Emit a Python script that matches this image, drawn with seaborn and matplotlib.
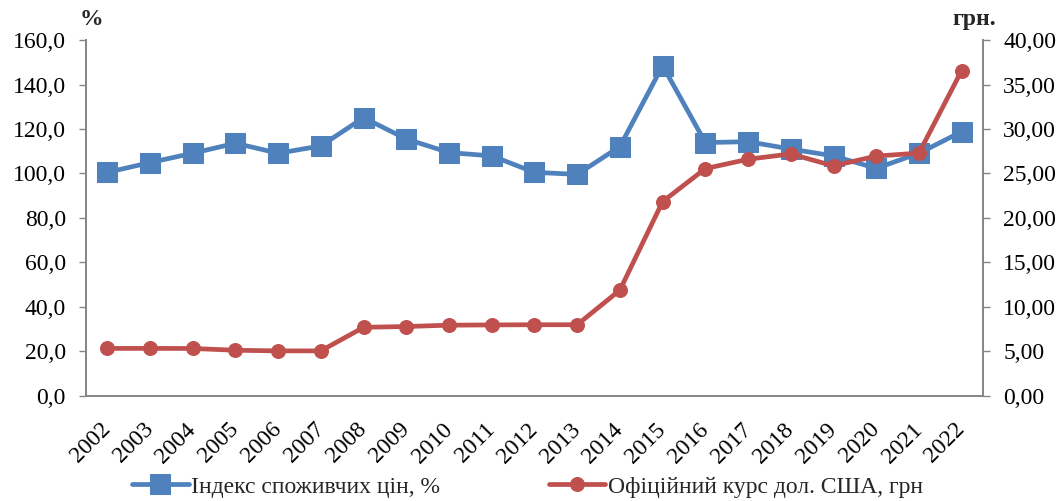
import matplotlib
matplotlib.use("Agg")
import matplotlib.pyplot as plt
from matplotlib.ticker import FuncFormatter, MultipleLocator, FixedLocator
import numpy as np
import pandas as pd
import seaborn as sns

years = [str(y) for y in range(2002, 2023)]
cpi = [100.5, 104.9, 109.1, 113.6, 109.1, 112.4, 125.1, 115.5, 109.4, 107.9,
       100.5, 99.6, 112.1, 148.5, 113.9, 114.3, 111.0, 107.9, 102.3, 109.1, 118.8]
usd_rate = [5.33, 5.33, 5.32, 5.12, 5.05, 5.05, 7.70, 7.79, 7.94, 7.97,
            7.99, 7.99, 11.89, 21.84, 25.55, 26.60, 27.20, 25.85, 26.96, 27.29, 36.57]
cpi_label = "Індекс споживчих цін, %"
usd_label = "Офіційний курс дол. США, грн"

sns.set_theme(style="white")
plt.rcParams["font.family"] = ["Liberation Serif", "DejaVu Serif"]

df = pd.DataFrame({"pos": np.arange(len(years)), "year": years,
                   "cpi": cpi, "usd": usd_rate})

fig = plt.figure(figsize=(10.61, 5.01), dpi=100)
ax = fig.add_axes([0.081, 0.21, 0.8455, 0.71])
ax2 = ax.twinx()

blue = "#4F81BD"
red = "#C0504D"
grey = "#868686"
fs = 17

sns.lineplot(data=df, x="pos", y="cpi", ax=ax, color=blue, linewidth=3.4,
             marker="s", markersize=14, markeredgecolor=blue, sort=False,
             label=cpi_label, legend=False)
sns.lineplot(data=df, x="pos", y="usd", ax=ax2, color=red, linewidth=3.4,
             marker="o", markersize=10, markeredgecolor=red, sort=False,
             label=usd_label, legend=False)

ax.set_xlim(-0.5, len(years) - 0.5)
ax.set_ylim(0, 160)
ax2.set_ylim(0, 40)
ax.yaxis.set_major_locator(MultipleLocator(20))
ax2.yaxis.set_major_locator(MultipleLocator(5))
ax.yaxis.set_major_formatter(FuncFormatter(lambda v, p: f"{v:.1f}".replace(".", ",")))
ax2.yaxis.set_major_formatter(FuncFormatter(lambda v, p: f"{v:.2f}".replace(".", ",")))

ax.set_xticks(df["pos"])
ax.set_xticklabels(years, rotation=45, ha="right", va="center", rotation_mode="anchor")
ax.xaxis.set_minor_locator(FixedLocator(np.arange(-0.5, len(years), 1.0)))
ax.tick_params(axis="x", which="major", length=0, pad=22, labelsize=fs, colors="black")
ax.tick_params(axis="x", which="minor", length=5, width=1, color=grey, direction="out")
ax.tick_params(axis="y", length=5, width=1, color=grey, direction="out",
               labelsize=fs, labelcolor="black", pad=9.5)
ax2.tick_params(axis="y", length=5, width=1, color=grey, direction="out",
                labelsize=fs, labelcolor="black", pad=9.5)
ax.set_xlabel("")
ax.set_ylabel("")
ax2.set_ylabel("")

for a in (ax, ax2):
    for name, sp in a.spines.items():
        sp.set_color(grey)
        sp.set_linewidth(1.3)
    a.spines["top"].set_visible(False)
    a.grid(False)

fig.text(0.075, 0.962, "%", fontsize=fs, fontweight="bold", ha="left", va="center")
fig.text(0.898, 0.962, "грн.", fontsize=fs, fontweight="bold", ha="left", va="center")

h1, l1 = ax.get_legend_handles_labels()
h2, l2 = ax2.get_legend_handles_labels()
fig.legend(h1 + h2, l1 + l2, loc="center", bbox_to_anchor=(0.497, 0.028), ncol=2,
           frameon=False, fontsize=fs, handlelength=2.4, handletextpad=0.1,
           columnspacing=4.6)

fig.savefig("out.png", dpi=100)
